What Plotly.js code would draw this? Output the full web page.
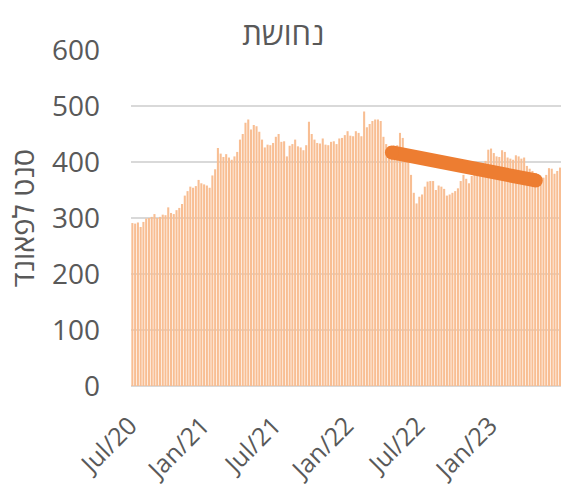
<!DOCTYPE html>
<html>
<head>
<meta charset="utf-8">
<script src="https://cdn.plot.ly/plotly-3.0.1.min.js"></script>
<style>html,body{margin:0;padding:0;background:#fff;}#chart{width:561px;height:490px;}</style>
</head>
<body>
<div id="chart"></div>
<script>
// Weekly copper price (cents per pound)
const startWeek = '2020-06-14';
const prices = [
291,290,292,284,293,299,300,302,307,300,302,306,305,319,309,307,314,318,325,340,
348,356,354,357,368,362,360,358,354,376,387,425,415,409,414,408,404,410,418,440,
450,470,476,458,466,464,454,440,426,431,430,434,445,450,436,437,410,429,432,440,
428,426,421,430,472,450,440,434,433,442,431,430,436,437,432,442,443,448,455,447,
446,455,452,446,490,462,468,473,476,476,473,445,432,428,425,422,430,452,443,422,
400,377,345,326,338,342,356,365,366,366,350,358,356,352,340,342,345,348,353,366,
377,370,362,375,380,384,388,398,402,422,424,416,410,409,421,418,408,406,404,412,
410,406,408,393,388,384,372,365,364,372,377,389,388,379,384,390
];
// Week dates (one per value, 7 days apart)
const weekDates = prices.map((_, i) => {
  const d = new Date(startWeek + 'T12:00:00Z');
  d.setUTCDate(d.getUTCDate() + 7 * i);
  return d.toISOString().slice(0, 10) + ' 12:00';
});
// Trend line
const trendDates = ['2022-04-04', '2023-04-04'];
const trendValues = [417, 367];
// Axis labels
const tickDates = ['2020-07-01', '2021-01-01', '2021-07-01', '2022-01-01', '2022-07-01', '2023-01-01'];
const tickLabels = ['Jul/20', 'Jan/21', 'Jul/21', 'Jan/22', 'Jul/22', 'Jan/23'];
const yTicks = [0, 100, 200, 300, 400, 500, 600];

const font = '"Open Sans", "Noto Sans", sans-serif';
const traces = [
  {
    type: 'bar', x: weekDates, y: prices,
    marker: {color: '#F8BE93', line: {width: 0}},
    hoverinfo: 'skip'
  },
  {
    type: 'scatter', mode: 'lines+markers', x: trendDates, y: trendValues,
    line: {color: '#ED7D31', width: 14},
    marker: {color: '#ED7D31', size: 14},
    hoverinfo: 'skip'
  }
];
const layout = {
  width: 561, height: 490,
  margin: {l: 131, r: 0, t: 50, b: 104},
  paper_bgcolor: '#fff', plot_bgcolor: '#fff',
  showlegend: false,
  bargap: 0.25,
  title: {text: 'נחושת', x: 0.505, xanchor: 'center', y: 0.931, yanchor: 'middle',
          font: {family: font, size: 31, color: '#595959'}},
  xaxis: {
    type: 'date', range: ['2020-06-11', '2023-06-07'],
    tickmode: 'array', tickvals: tickDates, ticktext: tickLabels,
    tickangle: -45, tickfont: {family: font, size: 25, color: '#595959'},
    ticklabelstandoff: 19, ticklabelshift: -9,
    showgrid: false, zeroline: false, showline: false, ticks: ''
  },
  yaxis: {
    range: [0, 600], tickmode: 'array', tickvals: yTicks,
    tickfont: {family: font, size: 28, color: '#595959'},
    showgrid: true, gridcolor: '#D9D9D9', gridwidth: 1.5,
    zeroline: true, zerolinecolor: '#D9D9D9', zerolinewidth: 1.5,
    showline: false, ticks: '', ticklabelstandoff: 30,
    title: {text: 'סנט לפאונד', standoff: 8, font: {family: font, size: 29, color: '#595959'}}
  }
};
Plotly.newPlot('chart', traces, layout, {displayModeBar: false, staticPlot: true});
</script>
</body>
</html>
